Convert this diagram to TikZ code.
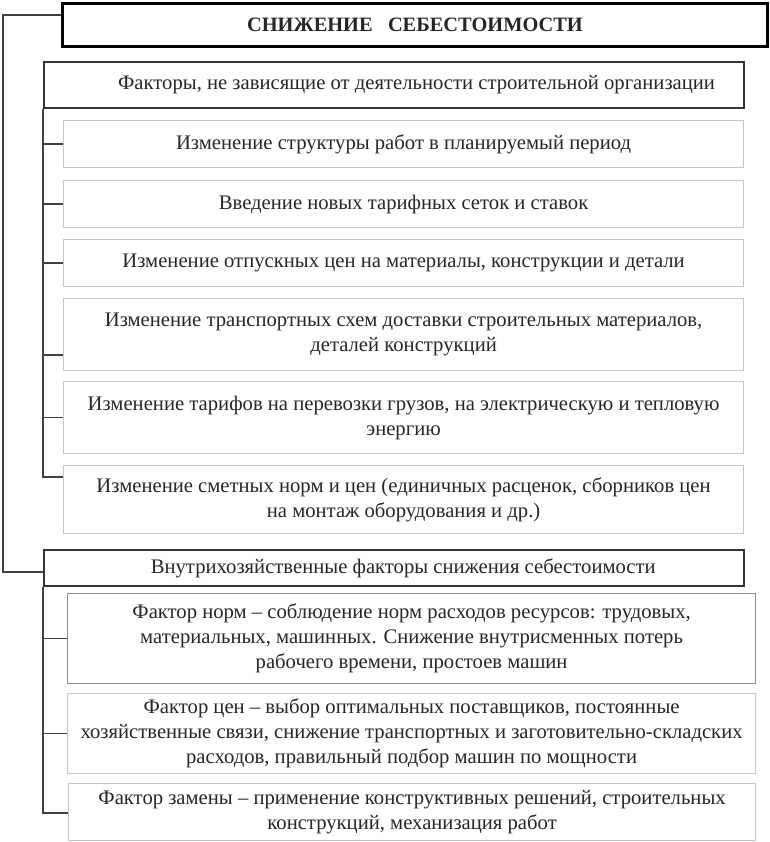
\documentclass[tikz,border=0pt]{standalone}
\usepackage{fontspec}
\setmainfont{Liberation Serif}
\begin{document}
\begin{tikzpicture}[
            x=0.75pt, y=-0.75pt,
            every node/.style={align=center, inner sep=0pt, text=black!85,
                font=\fontsize{15.5}{18.75}\selectfont},
            titlebox/.style={draw=black, line width=2.2pt, anchor=north west,
                font=\bfseries\fontsize{15.3}{18.75}\selectfont},
            headbox/.style={draw=black!80, line width=1.4pt, anchor=north west},
            itembox/.style={draw=black!22, line width=0.9pt, anchor=north west},
            link/.style={draw=black!75, line width=1.3pt}
        ]
            \useasboundingbox (0,0) rectangle (770,842);
            % title
            \node[titlebox, minimum width=528.75pt, minimum height=32.25pt] (title) at (61,2)
                {СНИЖЕНИЕ \ \ СЕБЕСТОИМОСТИ};
            % first group
            \node[headbox, minimum width=525pt, minimum height=34.5pt] (head1) at (43,61)
                {\hspace*{34pt}Факторы, не зависящие от деятельности строительной организации};
            \node[itembox, minimum width=510pt, minimum height=35.25pt] (i1) at (63,120)
                {Изменение структуры работ в планируемый период};
            \node[itembox, minimum width=510pt, minimum height=35.25pt] (i2) at (63,180)
                {Введение новых тарифных сеток и ставок};
            \node[itembox, minimum width=510pt, minimum height=35.25pt] (i3) at (63,239)
                {Изменение отпускных цен на материалы, конструкции и детали};
            \node[itembox, minimum width=510pt, minimum height=54pt] (i4) at (63,298)
                {Изменение транспортных схем доставки строительных материалов,\\
                 деталей конструкций};
            \node[itembox, minimum width=510pt, minimum height=54pt] (i5) at (63,381)
                {Изменение тарифов на перевозки грузов, на электрическую и тепловую\\
                 энергию};
            \node[itembox, minimum width=510pt, minimum height=51pt] (i6) at (63,465)
                {Изменение сметных норм и цен (единичных расценок, сборников цен\\
                 на монтаж оборудования и др.)};
            % second group
            \node[headbox, minimum width=525pt, minimum height=27pt] (head2) at (43,549)
                {\hspace*{14pt}Внутрихозяйственные факторы снижения себестоимости};
            \node[itembox, draw=black!45, minimum width=516pt, minimum height=67.5pt] (j1) at (67,593)
                {Фактор норм – соблюдение норм расходов ресурсов: трудовых,\\
                 материальных, машинных. Снижение внутрисменных потерь\\
                 рабочего времени, простоев машин};
            \node[itembox, minimum width=516pt, minimum height=60pt] (j2) at (67,693)
                {Фактор цен – выбор оптимальных поставщиков, постоянные\\
                 хозяйственные связи, снижение транспортных и заготовительно-складских\\
                 расходов, правильный подбор машин по мощности};
            \node[itembox, minimum width=515.25pt, minimum height=42.75pt] (j3) at (68,783)
                {Фактор замены – применение конструктивных решений, строительных\\
                 конструкций, механизация работ};
            % connectors
            \coordinate (top) at (3,15);
            \coordinate (bot) at (3,572);
            \coordinate (c4) at (43,355);
            \coordinate (c6) at (43,477);
            \coordinate (c9) at (43,813);
            \draw[link] (title.west |- top) -- (top) -- (bot) -- (head2.west |- bot);
            \draw[link] (head1.south west) -- (c6) -- (c6 -| i6.west);
            \foreach \n in {i1,i2,i3,i5}
                \draw[link] (\n.west) -- (\n.west -| head1.south west);
            \draw[link] (c4) -- (c4 -| i4.west);
            \draw[link] (head2.south west) -- (c9) -- (c9 -| j3.west);
            \foreach \n in {j1,j2}
                \draw[link] (\n.west) -- (\n.west -| head2.south west);
        \end{tikzpicture}
\end{document}
